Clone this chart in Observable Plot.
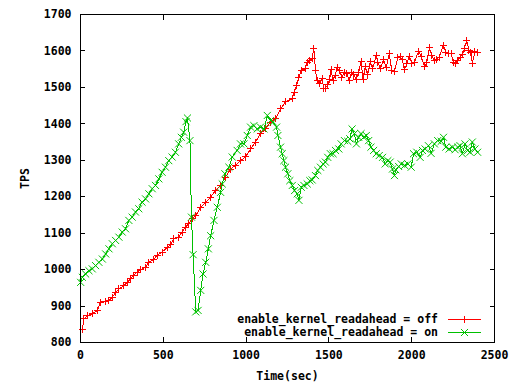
<!DOCTYPE html>
<html><head><meta charset="utf-8">
<script src="https://cdn.jsdelivr.net/npm/d3@7"></script>
<script src="https://cdn.jsdelivr.net/npm/@observablehq/plot@0.6"></script>
<style>
html,body{margin:0;padding:0;background:#fff;}
#wrap{position:relative;width:512px;height:384px;}
#wrap svg{display:block;}
</style></head><body><div id="wrap"></div>
<script>
// ---- data ----
const offTime = [11,21,41,71,101,121,152,172,192,212,232,262,282,302,322,342,362,393,413,443,463,493,523,543,563,593,613,633,654,674,696,726,756,786,816,846,876,906,936,966,996,1027,1057,1087,1118,1148,1178,1208,1238,1278,1292,1304,1318,1332,1358,1368,1384,1398,1409,1419,1429,1445,1459,1469,1479,1493,1505,1513,1525,1539,1549,1565,1579,1593,1609,1623,1635,1649,1666,1680,1694,1706,1720,1734,1750,1764,1786,1796,1810,1830,1846,1864,1880,1896,1916,1930,1944,1956,1971,1985,2001,2017,2041,2057,2077,2091,2107,2121,2137,2151,2165,2191,2205,2221,2238,2252,2266,2278,2292,2306,2318,2332,2346,2358,2366,2382,2398];
const offTps  = [836,865,874,879,888,911,912,915,924,938,947,956,965,975,984,993,1000,1007,1020,1029,1039,1048,1061,1068,1084,1089,1103,1116,1126,1139,1148,1171,1185,1199,1217,1231,1254,1276,1286,1299,1309,1331,1350,1373,1386,1405,1414,1441,1460,1469,1487,1505,1528,1546,1551,1569,1574,1578,1606,1546,1519,1510,1525,1496,1498,1507,1523,1549,1519,1533,1554,1546,1528,1542,1537,1519,1540,1534,1523,1542,1571,1523,1558,1534,1571,1551,1588,1569,1551,1577,1555,1592,1546,1544,1581,1585,1576,1548,1566,1585,1566,1569,1599,1585,1557,1569,1609,1587,1574,1576,1583,1615,1597,1592,1594,1569,1566,1574,1583,1590,1606,1629,1601,1597,1566,1599,1597];
const onTime = [1,11,31,51,71,91,111,132,152,172,192,212,232,252,272,292,312,332,352,372,393,413,433,453,473,493,513,533,553,573,593,609,623,637,646,661,670,680,696,710,726,740,756,772,786,806,826,846,856,872,896,916,946,966,987,1007,1027,1047,1067,1087,1108,1128,1148,1164,1184,1192,1208,1218,1228,1238,1252,1264,1279,1293,1309,1319,1333,1349,1369,1385,1399,1419,1433,1449,1465,1479,1493,1509,1525,1540,1560,1574,1594,1614,1626,1640,1654,1666,1680,1694,1710,1726,1740,1754,1770,1786,1804,1824,1840,1856,1870,1884,1896,1904,1921,1937,1957,1977,1997,2011,2031,2051,2065,2081,2101,2117,2137,2157,2178,2192,2206,2226,2246,2262,2278,2292,2306,2322,2338,2352,2366,2382,2398];
const onTps  = [965,979,988,997,1002,1011,1020,1029,1043,1057,1071,1080,1089,1103,1112,1135,1144,1158,1167,1185,1194,1208,1222,1231,1249,1267,1281,1299,1309,1322,1345,1363,1377,1406,1416,1354,1144,1041,884,888,943,988,1020,1057,1093,1135,1171,1212,1235,1263,1281,1309,1327,1345,1345,1368,1391,1395,1386,1391,1386,1423,1409,1405,1391,1368,1336,1318,1299,1281,1263,1244,1231,1217,1208,1190,1226,1231,1235,1244,1246,1258,1272,1281,1290,1295,1308,1318,1318,1327,1331,1345,1354,1352,1359,1386,1373,1345,1363,1373,1363,1368,1354,1336,1327,1318,1313,1308,1290,1299,1295,1276,1258,1274,1283,1290,1286,1290,1281,1318,1322,1308,1327,1331,1340,1319,1345,1354,1352,1363,1336,1331,1336,1329,1336,1340,1318,1345,1327,1322,1350,1331,1322];
const xTicks = [0,500,1000,1500,2000,2500];
const yTicks = [800,900,1000,1100,1200,1300,1400,1500,1600,1700];
const seriesNames = ["enable_kernel_readahead = off","enable_kernel_readahead = on"];
const seriesColors = ["#ff0000","#00c000"];
const xLabel = "Time(sec)";
const yLabel = "TPS";

const off = offTime.map((t,i)=>({t, v:offTps[i]}));
const on  = onTime.map((t,i)=>({t, v:onTps[i]}));

const FONT = "'DejaVu Sans Mono', monospace";
const noText = () => "";
const chart = Plot.plot({
  width:512, height:384,
  marginLeft:80, marginRight:18, marginTop:14, marginBottom:42,
  style:{fontFamily:FONT, fontSize:"11.5px", fontWeight:"bold", color:"#000", background:"#fff"},
  x:{domain:[0,2500]},
  y:{domain:[800,1700]},
  marks:[
    Plot.axisX({ticks:xTicks, tickSize:0, tickPadding:8, tickFormat:"d", label:xLabel, labelAnchor:"center", labelOffset:37, labelArrow:"none"}),
    Plot.axisX({ticks:xTicks, tickSize:5, dy:-5, tickFormat:noText, label:null, shapeRendering:"crispEdges"}),
    Plot.axisX({anchor:"top", ticks:xTicks, tickSize:5, dy:5, tickFormat:noText, label:null, shapeRendering:"crispEdges"}),
    Plot.axisY({ticks:yTicks, tickSize:0, tickPadding:9, tickFormat:"d", label:yLabel, labelAnchor:"center", labelOffset:60, labelArrow:"none"}),
    Plot.axisY({ticks:yTicks, tickSize:5, dx:5, tickFormat:noText, label:null, shapeRendering:"crispEdges"}),
    Plot.axisY({anchor:"right", ticks:yTicks, tickSize:5, dx:-5, tickFormat:noText, label:null, shapeRendering:"crispEdges"}),
    Plot.line(off, {x:"t", y:"v", stroke:seriesColors[0], strokeWidth:1, shapeRendering:"crispEdges"}),
    Plot.dot(off, {x:"t", y:"v", symbol:"plus", r:2.4, stroke:seriesColors[0], strokeWidth:1, shapeRendering:"crispEdges"}),
    Plot.line(on, {x:"t", y:"v", stroke:seriesColors[1], strokeWidth:1, shapeRendering:"crispEdges"}),
    Plot.dot(on, {x:"t", y:"v", symbol:"times", r:3.3, stroke:seriesColors[1], strokeWidth:1}),
    Plot.frame({stroke:"#000", strokeWidth:1, shapeRendering:"crispEdges"})
  ]
});
const wrap = document.getElementById("wrap");
wrap.appendChild(chart);

// legend overlay (gnuplot style, inside plot at bottom right)
const leg = d3.select(wrap).append("svg")
  .attr("width",512).attr("height",384)
  .style("position","absolute").style("left","0px").style("top","0px")
  .style("font-family",FONT).style("font-size","11.5px").style("font-weight","bold");
const symbols = [d3.symbolPlus, d3.symbolTimes];
const sizes = [18, 34];
seriesNames.forEach((name,i)=>{
  const cy = 319 + i*13;
  leg.append("text").attr("x",438).attr("y",cy).attr("text-anchor","end")
    .attr("dominant-baseline","central").attr("fill","#000").text(name);
  leg.append("line").attr("x1",448).attr("x2",481).attr("y1",cy+0.5).attr("y2",cy+0.5)
    .attr("stroke",seriesColors[i]).attr("stroke-width",1).attr("shape-rendering","crispEdges");
  leg.append("path").attr("d",d3.symbol(symbols[i],sizes[i])())
    .attr("transform",`translate(464.5,${cy+0.5})`)
    .attr("fill","none").attr("stroke",seriesColors[i]).attr("stroke-width",1);
});
</script></body></html>
